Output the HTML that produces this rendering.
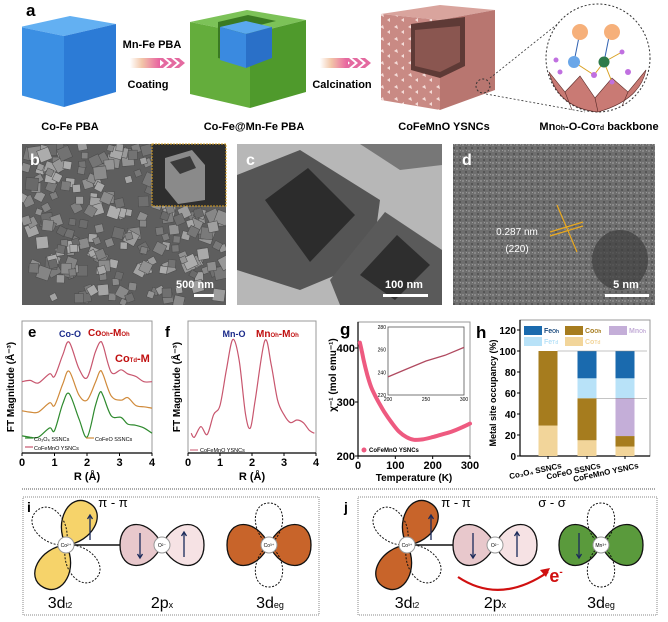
<!DOCTYPE html>
<html><head><meta charset="utf-8"><style>
html,body{margin:0;padding:0;background:#fff}
svg{display:block;font-family:"Liberation Sans",Arial,sans-serif}
</style></head><body>
<svg id="fig" width="668" height="622" viewBox="0 0 668 622" xmlns="http://www.w3.org/2000/svg">
<defs>
<linearGradient id="chev" x1="0" x2="1"><stop offset="0" stop-color="#fff"/><stop offset="0.4" stop-color="#f2c6a8"/><stop offset="1" stop-color="#e85fa0"/></linearGradient>
<pattern id="pinkpat" width="14" height="12" patternUnits="userSpaceOnUse"><rect width="14" height="12" fill="#c98a84"/><path d="M2 3l3-2 1 4zM9 8l3-2 0 4z" fill="#f4dcd8"/></pattern>
<pattern id="noise" width="6" height="6" patternUnits="userSpaceOnUse"><rect width="6" height="6" fill="#6e6e6e"/><rect x="0" y="0" width="2" height="2" fill="#888"/><rect x="3" y="3" width="2" height="2" fill="#555"/><rect x="4" y="0" width="1" height="1" fill="#999"/></pattern>
</defs>

<!-- panel a -->
<text x="26" y="16" font-size="17" font-weight="bold">a</text>
<g>
<polygon points="20,27 70,16 116,24 64,36" fill="#63b0f2"/>
<polygon points="20,27 64,36 64,107 20,95" fill="#3b8fe3"/>
<polygon points="64,36 116,24 116,92 64,107" fill="#2c7bd6"/>
</g>
<text x="70" y="130" font-size="11" font-weight="bold" text-anchor="middle">Co-Fe PBA</text>
<text x="152" y="48" font-size="11" font-weight="bold" text-anchor="middle">Mn-Fe PBA</text>
<g><rect x="130" y="58" width="30" height="10" fill="url(#chev)"/><path d="M158 58l6 5-6 5h5l6-5-6-5zM166 58l6 5-6 5h5l6-5-6-5zM174 58l6 5-6 5h5l6-5-6-5z" fill="#e46aa0"/></g>
<text x="148" y="88" font-size="11" font-weight="bold" text-anchor="middle">Coating</text>
<g>
<polygon points="190,22 247,10 306,20 250,34" fill="#7cc258"/>
<polygon points="190,22 250,34 250,108 190,94" fill="#64ad3c"/>
<polygon points="250,34 306,20 306,92 250,108" fill="#4f9a2c"/>
<polygon points="218,22 248,15 276,21 248,28 248,65 218,58" fill="#3a7a22"/>
<polygon points="220,27 246,21 272,27 246,34" fill="#5aa8ee"/>
<polygon points="220,27 246,34 246,68 220,60" fill="#3a8ae0"/>
<polygon points="246,34 272,27 272,58 246,68" fill="#2a70c8"/>
</g>
<text x="254" y="130" font-size="11" font-weight="bold" text-anchor="middle">Co-Fe@Mn-Fe PBA</text>
<g><rect x="320" y="58" width="28" height="10" fill="url(#chev)"/><path d="M344 58l6 5-6 5h5l6-5-6-5zM352 58l6 5-6 5h5l6-5-6-5zM360 58l6 5-6 5h5l6-5-6-5z" fill="#e46aa0"/></g>
<text x="342" y="88" font-size="11" font-weight="bold" text-anchor="middle">Calcination</text>
<g>
<polygon points="381,14 440,5 495,10 440,20" fill="#d9a49d"/>
<polygon points="381,14 440,20 440,110 381,100" fill="url(#pinkpat)"/>
<polygon points="440,20 495,10 495,90 440,110" fill="#b87670"/>
<polygon points="411,24 440,20 465,17 465,66 440,78 411,70" fill="#5e3a36"/>
<polygon points="415,30 460,26 460,62 440,72 415,66" fill="#8a5650"/>
</g>
<text x="444" y="130" font-size="11" font-weight="bold" text-anchor="middle">CoFeMnO YSNCs</text>
<g>
<line x1="490" y1="78" x2="560" y2="22" stroke="#333" stroke-dasharray="2,2" stroke-width="0.8"/>
<line x1="486" y1="94" x2="585" y2="112" stroke="#333" stroke-dasharray="2,2" stroke-width="0.8"/>
<circle cx="483" cy="86" r="7" fill="none" stroke="#333" stroke-dasharray="2,2"/>
<ellipse cx="598" cy="58" rx="52" ry="54" fill="#fff" stroke="#333" stroke-dasharray="2,2"/>
<path d="M549 72 L565 92 L580 76 L595 98 L612 78 L628 92 L646 70 Q640 100 598 112 Q558 108 549 72Z" fill="#c97a74" stroke="#5a2a28" stroke-width="0.6"/>
<path d="M565 92 L572 110 M595 98 L598 112 M628 92 L622 106" stroke="#5a2a28" stroke-width="0.6"/>
<line x1="574" y1="62" x2="580" y2="32" stroke="#3060b0"/><line x1="604" y1="62" x2="610" y2="32" stroke="#3060b0"/>
<line x1="574" y1="62" x2="594" y2="75" stroke="#d9a020"/><line x1="594" y1="75" x2="604" y2="62" stroke="#d9a020"/>
<line x1="604" y1="62" x2="622" y2="52" stroke="#d9a020"/><line x1="604" y1="62" x2="612" y2="82" stroke="#d9a020"/>
<circle cx="580" cy="32" r="8" fill="#f6b07a"/><circle cx="612" cy="32" r="8" fill="#f6b07a"/>
<circle cx="574" cy="62" r="6" fill="#6aa6e8"/><circle cx="604" cy="62" r="5.5" fill="#2e7a4a"/>
<circle cx="556" cy="60" r="2.5" fill="#c070e0"/><circle cx="594" cy="75" r="3" fill="#c070e0"/><circle cx="622" cy="52" r="2.5" fill="#c070e0"/><circle cx="612" cy="82" r="2.5" fill="#c070e0"/><circle cx="628" cy="72" r="3" fill="#c070e0"/><circle cx="560" cy="72" r="2.5" fill="#c070e0"/>
</g>
<text x="599" y="130" font-size="11" font-weight="bold" text-anchor="middle">Mn<tspan font-size="7">Oh</tspan>-O-Co<tspan font-size="7">Td</tspan> backbone</text>

<!-- panel b SEM -->
<g>
<rect x="22" y="144" width="204" height="161" fill="#5e5e5e"/>
<g id="semcubes"></g>
<rect x="152" y="144" width="74" height="62" fill="#2e2e2e" stroke="#d9a020" stroke-dasharray="2,1"/>
<polygon points="165,158 192,150 205,165 205,200 178,204 165,188" fill="#8a8a8a"/>
<polygon points="170,162 190,156 196,168 180,174" fill="#3a3a3a"/>
<text x="30" y="165" font-size="16" font-weight="bold" fill="#fff">b</text>
<text x="195" y="288" font-size="11" font-weight="bold" fill="#fff" text-anchor="middle">500 nm</text>
<rect x="194" y="294" width="20" height="3" fill="#fff"/>
</g>
<!-- panel c TEM -->
<g>
<rect x="237" y="144" width="205" height="161" fill="#b7b7b7"/>
<polygon points="237,175 300,150 380,200 372,260 300,290 237,270" fill="#555"/>
<polygon points="265,200 308,168 355,215 310,262" fill="#2c2c2c"/>
<polygon points="330,280 385,212 442,250 442,305 340,305" fill="#5a5a5a"/>
<polygon points="360,275 397,235 430,265 395,300" fill="#2e2e2e"/>
<polygon points="360,144 442,144 442,165 400,170" fill="#777"/>
<text x="246" y="165" font-size="16" font-weight="bold" fill="#fff">c</text>
<text x="404" y="288" font-size="11" font-weight="bold" fill="#fff" text-anchor="middle">100 nm</text>
<rect x="383" y="294" width="45" height="3" fill="#fff"/>
</g>
<!-- panel d HRTEM -->
<g>
<rect x="453" y="144" width="202" height="161" fill="url(#noise)"/>
<ellipse cx="620" cy="260" rx="28" ry="30" fill="#3e3e3e" opacity="0.7"/>
<line x1="557" y1="205" x2="577" y2="252" stroke="#e8a820" stroke-width="1.2"/>
<line x1="550" y1="232" x2="583" y2="222" stroke="#e8a820" stroke-width="1.2"/>
<line x1="550" y1="236" x2="583" y2="226" stroke="#e8a820" stroke-width="1.2"/>
<text x="462" y="165" font-size="16" font-weight="bold" fill="#fff">d</text>
<text x="517" y="235" font-size="10" fill="#fff" text-anchor="middle">0.287 nm</text>
<text x="517" y="252" font-size="10" fill="#fff" text-anchor="middle">(220)</text>
<text x="626" y="288" font-size="11" font-weight="bold" fill="#fff" text-anchor="middle">5 nm</text>
<rect x="605" y="294" width="44" height="3" fill="#fff"/>
</g>

<!-- charts -->
<g id="chart-e"></g>
<g id="chart-f"></g>
<g id="chart-g"></g>
<g id="chart-h"></g>

<!-- divider -->
<line x1="22" y1="489" x2="655" y2="489" stroke="#555" stroke-dasharray="1,1"/>

<!-- panel i -->
<g>
<rect x="23" y="497" width="296" height="118" fill="none" stroke="#888" stroke-dasharray="1,1"/>
<text x="27" y="512" font-size="14" font-weight="bold">i</text>
<text x="113" y="507" font-size="13" text-anchor="middle">π - π</text>
<g id="orb-i"></g>
<text x="60" y="608" font-size="16" text-anchor="middle">3d<tspan font-size="8">t2</tspan></text>
<text x="162" y="608" font-size="16" text-anchor="middle">2p<tspan font-size="9">x</tspan></text>
<text x="270" y="608" font-size="16" text-anchor="middle">3d<tspan font-size="9">eg</tspan></text>
</g>
<!-- panel j -->
<g>
<rect x="358" y="497" width="299" height="118" fill="none" stroke="#888" stroke-dasharray="1,1"/>
<text x="344" y="512" font-size="14" font-weight="bold">j</text>
<text x="456" y="507" font-size="13" text-anchor="middle">π - π</text>
<text x="552" y="507" font-size="13" text-anchor="middle">σ - σ</text>
<g id="orb-j"></g>
<path d="M458 577 Q500 605 548 572" fill="none" stroke="#d01010" stroke-width="2.2"/>
<path d="M550 568 l-10 2 6 7z" fill="#d01010"/>
<text x="556" y="582" font-size="18" font-weight="bold" fill="#d01010" text-anchor="middle">e<tspan font-size="10" dy="-7">-</tspan></text>
<text x="407" y="608" font-size="16" text-anchor="middle">3d<tspan font-size="8">t2</tspan></text>
<text x="495" y="608" font-size="16" text-anchor="middle">2p<tspan font-size="9">x</tspan></text>
<text x="601" y="608" font-size="16" text-anchor="middle">3d<tspan font-size="9">eg</tspan></text>
</g>
</svg>
<script>
// ===== Chart e data =====
const eR = [0,0.25,0.5,0.85,1,1.25,1.45,1.75,2,2.25,2.4,2.5,2.75,3.05,3.25,3.5,3.75,4];
const ePink = [5.4,5.5,5.3,6.0,5.8,7.4,8.4,6.4,5.7,7.6,8.4,8.1,6.1,6.3,6.0,5.8,5.4,5.4];
const eOrange = [3.2,3.1,3.1,3.8,3.6,5.2,6.2,4.4,4.0,5.3,6.2,5.9,4.3,4.0,4.2,3.6,3.5,3.4];
const eGreen = [1.3,1.2,1.2,1.9,1.7,3.7,4.5,2.6,1.2,3.5,4.6,4.3,2.8,2.7,2.2,2.1,1.9,1.5];
const eXTicks = [0,1,2,3,4];
// ===== Chart f data =====
const fR = [0.1,0.2,0.4,0.6,0.8,1.0,1.2,1.4,1.6,1.8,1.95,2.1,2.4,2.6,2.8,3.0,3.2,3.4,3.6,3.8,3.95];
const fMag = [1.5,1.2,2.0,1.4,2.9,3.6,6.3,8.6,7.0,2.9,1.9,4.0,8.5,6.7,4.0,2.9,2.3,2.5,2.3,1.7,1.5];
const fXTicks = [0,1,2,3,4];
// ===== Chart g data =====
const gT = [5,10,15,25,35,45,55,70,90,110,130,150,175,200,225,250,275,300];
const gChi = [410,395,378,350,328,313,300,282,262,245,235,230,231,235,240,245,252,260];
const gInsetT = [200,225,250,275,300];
const gInsetChi = [236,243,250,255,262];
const gYTicks = [200,300,400];
const gXTicks = [0,100,200,300];
const gInsetYTicks = [220,240,260,280];
const gInsetXTicks = [200,250,300];
// ===== Chart h data =====
const hCats = ["Co\u2083O\u2084 SSNCs","CoFeO SSNCs","CoFeMnO YSNCs"];
const hCoTd = [29,15,9];
const hCoOh = [71,40,10];
const hMnOh = [0,0,36];
const hFeTd = [0,19,19];
const hFeOh = [0,26,26];
const hYTicks = [0,20,40,60,80,100,120];

const NS="http://www.w3.org/2000/svg";
function mk(parent,tag,attrs,text){const el=document.createElementNS(NS,tag);for(const k in attrs)el.setAttribute(k,attrs[k]);if(text!==undefined)el.textContent=text;parent.appendChild(el);return el;}
function lin(d0,d1,r0,r1){return v=>r0+(v-d0)*(r1-r0)/(d1-d0);}
function pathOf(xs,ys,sx,sy){return xs.map((x,i)=>(i?'L':'M')+sx(x).toFixed(1)+' '+sy(ys[i]).toFixed(1)).join(' ');}
function smooth(xs,ys,sx,sy){const p=xs.map((x,i)=>[sx(x),sy(ys[i])]);let d='M'+p[0][0]+' '+p[0][1];for(let i=0;i<p.length-1;i++){const p0=p[i-1]||p[i],p1=p[i],p2=p[i+1],p3=p[i+2]||p2;d+=' C'+(p1[0]+(p2[0]-p0[0])/6).toFixed(1)+' '+(p1[1]+(p2[1]-p0[1])/6).toFixed(1)+' '+(p2[0]-(p3[0]-p1[0])/6).toFixed(1)+' '+(p2[1]-(p3[1]-p1[1])/6).toFixed(1)+' '+p2[0].toFixed(1)+' '+p2[1].toFixed(1);}return d;}

// SEM texture (decorative)
(function(){const g=document.getElementById('semcubes');let s=7;const r=()=>{s=(s*9301+49297)%233280;return s/233280;};
for(let i=0;i<260;i++){const x=20+r()*200,y=142+r()*158,w=6+r()*7;const c=Math.floor(105+r()*70);
const el=mk(g,'rect',{x:x.toFixed(1),y:y.toFixed(1),width:w.toFixed(1),height:w.toFixed(1),fill:`rgb(${c},${c},${c})`,stroke:'#4a4a4a','stroke-width':0.5,transform:`rotate(${(r()*60-30).toFixed(0)} ${x} ${y})`});

}
mk(g,'rect',{x:0,y:0,width:22,height:310,fill:'#fff'});mk(g,'rect',{x:226,y:140,width:11,height:170,fill:'#fff'});
mk(g,'rect',{x:0,y:305,width:240,height:10,fill:'#fff'});mk(g,'rect',{x:0,y:136,width:240,height:8,fill:'#fff'});})();

// ===== Chart e =====
(function(){const g=document.getElementById('chart-e');
const x0=22,x1=152,y0=453,y1=321;const sx=lin(0,4,x0,x1),sy=lin(0,10,y0,y1);
mk(g,'rect',{x:x0,y:y1,width:x1-x0,height:y0-y1,fill:'none',stroke:'#999'});
mk(g,'line',{x1:x0,y1:y0,x2:x1,y2:y0,stroke:'#000','stroke-width':1.2});
eXTicks.forEach(t=>{mk(g,'line',{x1:sx(t),y1:y0,x2:sx(t),y2:y0+3,stroke:'#000'});
const tl=mk(g,'text',{x:sx(t),y:y0+13,'font-size':11,'font-weight':'bold','text-anchor':'middle'},t);

});
const xt=mk(g,'text',{x:87,y:480,'font-size':11,'font-weight':'bold','text-anchor':'middle'},'R (Å)');


const yt=mk(g,'text',{x:0,y:0,'font-size':10,'font-weight':'bold','text-anchor':'middle',transform:'translate(14,387) rotate(-90)'},'FT Magnitude (Å⁻³)');


[[eGreen,'#2e8a2e','green-co3o4'],[eOrange,'#d08a3a','orange-cofeo'],[ePink,'#c8566e','pink-cofemno']].forEach(([d,c,n])=>{
const p=mk(g,'path',{d:smooth(eR,d,sx,sy),fill:'none',stroke:c,'stroke-width':1.2});

});
const t1=mk(g,'text',{x:70,y:337,'font-size':9,'font-weight':'bold',fill:'#1a2a8a','text-anchor':'middle'},'Co-O');

const t2=mk(g,'text',{x:88,y:336,'font-size':10,'font-weight':'bold',fill:'#c01010'});t2.innerHTML='Co<tspan font-size="6">Oh</tspan>-M<tspan font-size="6">Oh</tspan>';

const t3=mk(g,'text',{x:115,y:362,'font-size':11,'font-weight':'bold',fill:'#c01010'});t3.innerHTML='Co<tspan font-size="6">Td</tspan>-M';

const t4=mk(g,'text',{x:28,y:337,'font-size':15,'font-weight':'bold'},'e');

const leg=[['Co₃O₄ SSNCs','#2e8a2e',25,441],['CoFeO SSNCs','#d08a3a',86,441],['CoFeMnO YSNCs','#c8566e',25,450]];
leg.forEach(([t,c,x,y])=>{mk(g,'line',{x1:x,y1:y-3,x2:x+8,y2:y-3,stroke:c,'stroke-width':1.2});
const l=mk(g,'text',{x:x+9,y:y,'font-size':5.5},t);

});
})();

// ===== Chart f =====
(function(){const g=document.getElementById('chart-f');
const x0=188,x1=316,y0=453,y1=321;const sx=lin(0,4,x0,x1),sy=lin(0,10,y0,y1);
mk(g,'rect',{x:x0,y:y1,width:x1-x0,height:y0-y1,fill:'none',stroke:'#999'});
mk(g,'line',{x1:x0,y1:y0,x2:x1,y2:y0,stroke:'#000','stroke-width':1.2});
fXTicks.forEach(t=>{mk(g,'line',{x1:sx(t),y1:y0,x2:sx(t),y2:y0+3,stroke:'#000'});
const tl=mk(g,'text',{x:sx(t),y:y0+13,'font-size':11,'font-weight':'bold','text-anchor':'middle'},t);

});
const xt=mk(g,'text',{x:252,y:480,'font-size':11,'font-weight':'bold','text-anchor':'middle'},'R (Å)');

const yt=mk(g,'text',{x:0,y:0,'font-size':10,'font-weight':'bold','text-anchor':'middle',transform:'translate(180,387) rotate(-90)'},'FT Magnitude (Å⁻³)');

const p=mk(g,'path',{d:smooth(fR,fMag,sx,sy),fill:'none',stroke:'#c8566e','stroke-width':1.2});

const a=mk(g,'text',{x:234,y:337,'font-size':9,'font-weight':'bold',fill:'#1a2a8a','text-anchor':'middle'},'Mn-O');

const b=mk(g,'text',{x:256,y:337,'font-size':10,'font-weight':'bold',fill:'#c01010'});b.innerHTML='Mn<tspan font-size="6">Oh</tspan>-M<tspan font-size="6">Oh</tspan>';

const c=mk(g,'text',{x:165,y:337,'font-size':15,'font-weight':'bold'},'f');

mk(g,'line',{x1:190,y1:450,x2:198,y2:450,stroke:'#c8566e'});
const l=mk(g,'text',{x:200,y:452,'font-size':5.5},'CoFeMnO YSNCs');

})();

// ===== Chart g =====
(function(){const g=document.getElementById('chart-g');
const x0=358,x1=470,y0=456,y1=322;const sx=lin(0,300,x0,x1),sy=lin(200,400,456,348);
mk(g,'rect',{x:x0,y:y1,width:x1-x0,height:y0-y1,fill:'none',stroke:'#999'});
mk(g,'line',{x1:x0,y1:y0,x2:x1,y2:y0,stroke:'#000','stroke-width':1.2});
mk(g,'line',{x1:x0,y1:y0,x2:x0,y2:y1,stroke:'#000','stroke-width':1.2});
gYTicks.forEach(t=>{mk(g,'line',{x1:x0-3,y1:sy(t),x2:x0,y2:sy(t),stroke:'#000'});
const tl=mk(g,'text',{x:x0-3,y:sy(t)+4,'font-size':11,'font-weight':'bold','text-anchor':'end'},t);
});
gXTicks.forEach(t=>{mk(g,'line',{x1:sx(t),y1:y0,x2:sx(t),y2:y0+3,stroke:'#000'});
const tl=mk(g,'text',{x:sx(t),y:y0+13,'font-size':11,'font-weight':'bold','text-anchor':'middle'},t);
});
const xt=mk(g,'text',{x:414,y:481,'font-size':10,'font-weight':'bold','text-anchor':'middle'},'Temperature (K)');

const yt=mk(g,'text',{x:0,y:0,'font-size':10,'font-weight':'bold','text-anchor':'middle',transform:'translate(336,375) rotate(-90)'},'χ⁻¹ (mol emu⁻¹)');

const p=mk(g,'path',{d:smooth(gT,gChi,sx,sy),fill:'none',stroke:'#ee5a80','stroke-width':4,'stroke-linecap':'round'});

const ix0=388,ix1=464,iy0=395,iy1=327;const isx=lin(200,300,ix0,ix1),isy=lin(220,280,iy0,iy1);
mk(g,'rect',{x:ix0,y:iy1,width:ix1-ix0,height:iy0-iy1,fill:'#fff',stroke:'#555','stroke-width':0.8});
gInsetYTicks.forEach(t=>{const tl=mk(g,'text',{x:ix0-2,y:isy(t)+2,'font-size':5,'text-anchor':'end'},t);
});
gInsetXTicks.forEach(t=>{const tl=mk(g,'text',{x:isx(t),y:iy0+6,'font-size':5,'text-anchor':'middle'},t);
});
const ip=mk(g,'path',{d:pathOf(gInsetT,gInsetChi,isx,isy),fill:'none',stroke:'#b04a60','stroke-width':1.3});

const pl=mk(g,'text',{x:340,y:335,'font-size':17,'font-weight':'bold'},'g');

mk(g,'circle',{cx:364,cy:450,r:2.5,fill:'#ee5a80'});
const l=mk(g,'text',{x:369,y:452,'font-size':6,'font-weight':'bold'},'CoFeMnO YSNCs');

})();

// ===== Chart h =====
(function(){const g=document.getElementById('chart-h');
const x0=520,x1=650,y0=456,y1=320;const sy=lin(0,100,456,351);
const cx=[548,587,625],bw=19;
mk(g,'rect',{x:x0,y:y1,width:x1-x0,height:y0-y1,fill:'none',stroke:'#999'});
mk(g,'line',{x1:x0,y1:y0,x2:x1,y2:y0,stroke:'#000','stroke-width':1.2});
mk(g,'line',{x1:x0,y1:y0,x2:x0,y2:y1,stroke:'#000','stroke-width':1.2});
hYTicks.forEach(t=>{mk(g,'line',{x1:x0-3,y1:sy(t),x2:x0,y2:sy(t),stroke:'#000'});
const tl=mk(g,'text',{x:x0-4,y:sy(t)+4,'font-size':10,'font-weight':'bold','text-anchor':'end'},t);
});
const yt=mk(g,'text',{x:0,y:0,'font-size':9,'font-weight':'bold','text-anchor':'middle',transform:'translate(496,393) rotate(-90)'},'Metal site occupancy (%)');

const series=[[hCoTd,'#f2d59a','co-td'],[hCoOh,'#a67c1e','co-oh'],[hMnOh,'#c4aed8','mn-oh'],[hFeTd,'#b8e2f8','fe-td'],[hFeOh,'#1a6aae','fe-oh']];
hCats.forEach((c,i)=>{let acc=0;series.forEach(([arr,col,n])=>{const v=arr[i];if(v>0){
const r=mk(g,'rect',{x:cx[i]-bw/2,y:sy(acc+v),width:bw,height:sy(acc)-sy(acc+v),fill:col});
}acc+=v;});
mk(g,'line',{x1:cx[i],y1:y0,x2:cx[i],y2:y0+3,stroke:'#000'});
const tl=mk(g,'text',{x:cx[i]+14,y:y0+12,'font-size':8,'font-weight':'bold','text-anchor':'end',transform:`rotate(-12 ${cx[i]+14} ${y0+12})`},c);
});
mk(g,'line',{x1:cx[0]+bw/2,y1:sy(100),x2:x1-3,y2:sy(100),stroke:'#888','stroke-width':0.6});
mk(g,'line',{x1:cx[1]+bw/2,y1:sy(hCoTd[1]+hCoOh[1]),x2:x1-3,y2:sy(hCoTd[1]+hCoOh[1]),stroke:'#888','stroke-width':0.6});
const legs=[['Fe','Oh','#1a6aae',524,326],['Co','Oh','#a67c1e',565,326],['Mn','Oh','#c4aed8',609,326],['Fe','Td','#b8e2f8',524,337],['Co','Td','#f2d59a',565,337]];
legs.forEach(([m,s,c,x,y])=>{mk(g,'rect',{x:x,y:y,width:18,height:9,fill:c});
const t=mk(g,'text',{x:x+20,y:y+7,'font-size':7,'font-weight':'bold',fill:c==='#1a6aae'?'#1a4a7e':c});t.innerHTML=m+'<tspan font-size="5">'+s+'</tspan>';
});
const pl=mk(g,'text',{x:476,y:338,'font-size':17,'font-weight':'bold'},'h');

})();

// ===== orbital diagrams (decorative) =====
function lobe(g,cx,cy,ang,L,W,fill,dashed){const d=`M0 0 C${L*0.3} ${-W*0.65} ${L} ${-W*0.65} ${L} 0 C${L} ${W*0.65} ${L*0.3} ${W*0.65} 0 0Z`;
mk(g,'path',{d:d,transform:`translate(${cx} ${cy}) rotate(${ang})`,fill:fill||'none',stroke:'#111','stroke-width':dashed?1:1.3,'stroke-dasharray':dashed?'2,1.5':'none'});}
function arrowV(g,x,y,up){const a=up?-1:1;mk(g,'line',{x1:x,y1:y-12*a,x2:x,y2:y+12*a,stroke:'#1a2a5a','stroke-width':1.3});
mk(g,'path',{d:`M${x-2.5} ${y+9*a} L${x} ${y+13*a} L${x+2.5} ${y+9*a}`,fill:'none',stroke:'#1a2a5a','stroke-width':1.3});}
function ion(g,x,y,t){mk(g,'circle',{cx:x,cy:y,r:8,fill:'#fff',stroke:'#999'});mk(g,'text',{x:x,y:y+2,'font-size':5,'text-anchor':'middle'},t);}
function build(id,A,O,B,t2col,egcol,ionA,ionB,egDown){const g=document.getElementById(id);
lobe(g,A,545,-62,48,34,t2col,false);lobe(g,A,545,118,48,34,t2col,false);
lobe(g,A,545,-130,45,30,null,true);lobe(g,A,545,50,45,30,null,true);
mk(g,'line',{x1:A+8,y1:545,x2:O-40,y2:545,stroke:'#111','stroke-width':1.5});
lobe(g,O,545,180,42,42,'#e8c8cc',false);lobe(g,O,545,0,42,42,'#f6e2e4',false);
arrowV(g,O-22,545,false);arrowV(g,O+22,545,true);ion(g,O,545,'O²⁻');
lobe(g,B,545,0,42,42,egcol,false);lobe(g,B,545,180,42,42,egcol,false);
lobe(g,B,545,-90,42,28,null,true);lobe(g,B,545,90,42,28,null,true);
if(egDown)arrowV(g,B-22,545,false);
ion(g,A,545,ionA);ion(g,B,545,ionB);
return g;}
const gi=build('orb-i',66,162,269,'#f6d36a','#c8642a','Co²⁺','Co³⁺',false);
arrowV(gi,90,528,true);
const gj=build('orb-j',407,495,601,'#c8642a','#5a9a3c','Co³⁺','Mn³⁺',true);
arrowV(gj,431,528,true);
</script>
</body></html>
